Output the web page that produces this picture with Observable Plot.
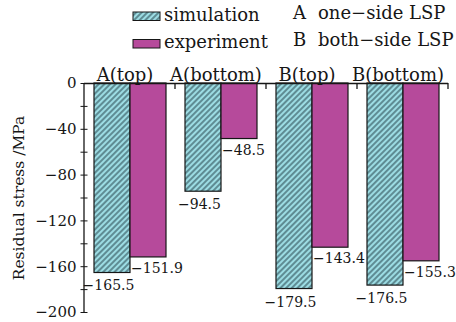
<!DOCTYPE html>
<html>
<head>
<meta charset="utf-8">
<script src="https://cdn.jsdelivr.net/npm/d3@7"></script>
<script src="https://cdn.jsdelivr.net/npm/@observablehq/plot@0.6"></script>
<style>
  body { margin: 0; background: #fff; }
  #chart { width: 456px; height: 322px; font-family: "DejaVu Serif", serif; color: #161616; }
  #chart svg { display: block; }
</style>
</head>
<body>
<div id="chart"></div>
<script>
// Residual stress after one-side (A) and both-side (B) laser shock peening
const groups = ["A(top)", "A(bottom)", "B(top)", "B(bottom)"];
const series = ["simulation", "experiment"];
const simulation = [-165.5, -94.5, -179.5, -176.5];
const experiment = [-151.9, -48.5, -143.4, -155.3];
const notes = [["A", "one\u2212side LSP"], ["B", "both\u2212side LSP"]];
const majorTicks = [0, -40, -80, -120, -160, -200];
const minorTicks = [0, -20, -40, -60, -80, -100, -120, -140, -160, -180, -200];

const ink = "#161616";
const simFill = "#9cdce3";
const hatchInk = "#2b4a52";
const expFill = "#b64a9b";
const fmt = d3.format(".1f");

const rows = groups.flatMap((group, i) => [
  {group, series: "simulation", value: simulation[i]},
  {group, series: "experiment", value: experiment[i]}
]);

// Legend strip above the plot; it also holds the hatch pattern used by the bars
const legend = d3.select("#chart").append("svg").attr("width", 456).attr("height", 56);
const pattern = legend.append("defs").append("pattern")
  .attr("id", "hatch").attr("patternUnits", "userSpaceOnUse")
  .attr("width", 4).attr("height", 4).attr("patternTransform", "rotate(45)");
pattern.append("rect").attr("width", 4).attr("height", 4).attr("fill", simFill);
pattern.append("line").attr("x1", 1).attr("x2", 1).attr("y1", 0).attr("y2", 4)
  .attr("stroke", hatchInk).attr("stroke-width", 1.1);

const swatchFill = {simulation: "url(#hatch)", experiment: expFill};
series.forEach((s, i) => {
  legend.append("rect").attr("x", 133).attr("y", 12 + 27.5 * i).attr("width", 27).attr("height", 8.5)
    .attr("fill", swatchFill[s]).attr("stroke", ink).attr("stroke-width", 1);
  legend.append("text").attr("x", 164).attr("y", 21 + 27.3 * i)
    .attr("font-size", 18).attr("fill", ink).text(s);
});
notes.forEach(([key, note], i) => {
  legend.append("text").attr("x", 293).attr("y", 18.5 + 27 * i).attr("font-size", 18).attr("fill", ink).text(key);
  legend.append("text").attr("x", 318).attr("y", 18.5 + 27 * i).attr("font-size", 18).attr("fill", ink).text(note);
});

const plot = Plot.plot({
  width: 456,
  height: 266,
  marginTop: 27,
  marginRight: 8,
  marginBottom: 10,
  marginLeft: 83,
  style: {fontFamily: "DejaVu Serif", fontSize: "15px", color: ink, background: "transparent", overflow: "visible"},
  fx: {domain: groups, padding: 0, label: null},
  x: {domain: series, paddingInner: 0, paddingOuter: 0.25, axis: null},
  y: {domain: [-200, 0], label: null},
  color: {domain: series, range: [swatchFill.simulation, swatchFill.experiment]},
  marks: [
    Plot.barY(rows, {fx: "group", x: "series", y: "value", fill: "series", stroke: ink, strokeWidth: 1.2}),
    Plot.ruleY([0], {stroke: ink, strokeWidth: 1.3}),
    Plot.text(rows, {
      filter: d => d.series === "simulation",
      fx: "group", x: "series", y: "value", text: d => fmt(d.value),
      dx: -4, dy: 13, fontSize: 14, fill: ink
    }),
    Plot.text(rows, {
      filter: d => d.series === "experiment",
      fx: "group", x: "series", y: "value", text: d => fmt(d.value),
      textAnchor: "start", dx: -17.5, dy: 11, fontSize: 14, fill: ink
    }),
    Plot.axisFx({anchor: "top", tickSize: 0, tickPadding: 3, fontSize: 18, dx: -5, label: null}),
    Plot.axisY(minorTicks, {
      tickSize: 7, dx: 3.5, tickFormat: () => "",
      label: "Residual stress /MPa", labelAnchor: "center", labelOffset: 72, labelArrow: "none", fontSize: 15.5
    }),
    Plot.axisY(majorTicks, {tickSize: 0, tickPadding: 8, tickFormat: d3.format("d"), label: null, fontSize: 15})
  ]
});
document.getElementById("chart").appendChild(plot);

// Axis spine and the short ticks that separate the groups along the top
const fxScale = plot.scale("fx");
const yScale = plot.scale("y");
const y0 = yScale.apply(0);
const extras = d3.select(plot).append("g").attr("stroke", ink).attr("stroke-width", 1.3);
const left = fxScale.apply(groups[0]);
extras.append("line")
  .attr("x1", left).attr("x2", left)
  .attr("y1", y0).attr("y2", yScale.apply(-200));
extras.selectAll("line.edge").data(groups).join("line").attr("class", "edge")
  .attr("x1", k => fxScale.apply(k) + fxScale.bandwidth)
  .attr("x2", k => fxScale.apply(k) + fxScale.bandwidth)
  .attr("y1", y0).attr("y2", y0 + 6);
</script>
</body>
</html>
